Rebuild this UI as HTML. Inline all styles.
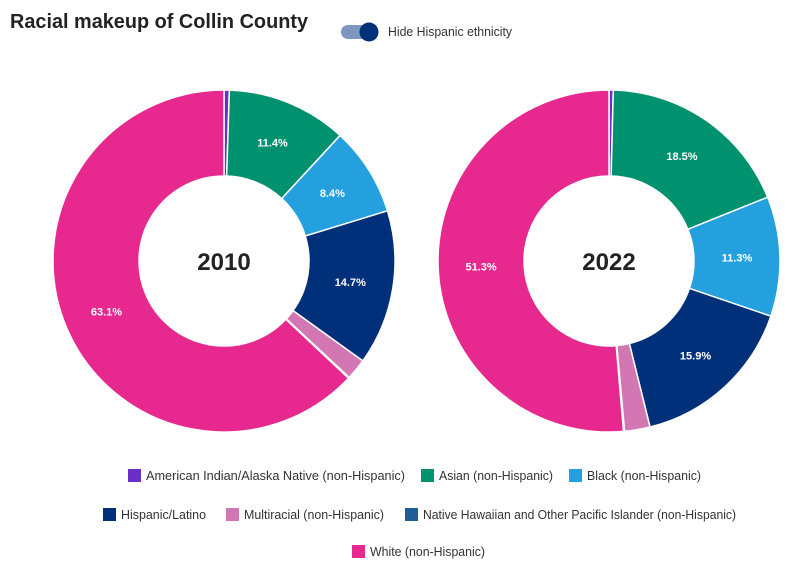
<!DOCTYPE html>
<html><head><meta charset="utf-8"><style>
body{margin:0;background:#fff;}
svg{display:block;font-family:"Liberation Sans",sans-serif;}
</style></head><body>
<svg id="chart" width="802" height="562">
<text x="10" y="28" font-size="20" font-weight="bold" fill="#222" textLength="298" lengthAdjust="spacingAndGlyphs">Racial makeup of Collin County</text>
<g>
<rect x="341" y="25" width="34" height="14" rx="7" fill="#7d96bf"/>
<circle cx="369" cy="32" r="9.5" fill="#00307a"/>
</g>
<text x="388" y="36" font-size="12.5" fill="#333" textLength="124" lengthAdjust="spacingAndGlyphs">Hide Hispanic ethnicity</text>
<g id="pies"></g>
<g id="legend"></g>
</svg>
<script>
const categories=["American Indian/Alaska Native (non-Hispanic)","Asian (non-Hispanic)","Black (non-Hispanic)","Hispanic/Latino","Multiracial (non-Hispanic)","Native Hawaiian and Other Pacific Islander (non-Hispanic)","White (non-Hispanic)"];
const colors=["#6a2fc9","#00916e","#24a0df","#00307a","#d377b4","#1f5f99","#e6288f"];
const years=["2010","2022"];
const values2010=[0.5,11.4,8.4,14.7,2.0,0.1,63.1];
const values2022=[0.4,18.5,11.3,15.9,2.4,0.1,51.3];
const series=[values2010,values2022];
const NS="http://www.w3.org/2000/svg";
function mk(t,a,p){const e=document.createElementNS(NS,t);for(const k in a)e.setAttribute(k,a[k]);p.appendChild(e);return e;}
const pies=document.getElementById('pies');
const centers=[[224,261],[609,261]];const R=171,r=85;
function pt(cx,cy,rad,a){return [cx+rad*Math.sin(a),cy-rad*Math.cos(a)];}
series.forEach((vals,si)=>{
 const [cx,cy]=centers[si];const tot=vals.reduce((a,b)=>a+b,0);let acc=0;
 const g=mk('g',{},pies);
 
 
 vals.forEach((v,i)=>{
  const a0=acc/tot*2*Math.PI;acc+=v;const a1=acc/tot*2*Math.PI;
  const L=(a1-a0)>Math.PI?1:0;
  const p0=pt(cx,cy,R,a0),p1=pt(cx,cy,R,a1),q1=pt(cx,cy,r,a1),q0=pt(cx,cy,r,a0);
  const d=`M${p0}A${R},${R} 0 ${L} 1 ${p1}L${q1}A${r},${r} 0 ${L} 0 ${q0}Z`;
  const s=mk('path',{d:d,fill:colors[i],stroke:'#fff','stroke-width':1.5},g);
  
  
  if(v>=5){const m=pt(cx,cy,(R+r)/2,(a0+a1)/2);
   const t=mk('text',{x:m[0],y:m[1]+4,'text-anchor':'middle','font-size':11,'font-weight':'bold',fill:'#fff'},g);
   t.textContent=v.toFixed(1)+'%';
   
   }
 });
 const yt=mk('text',{x:cx,y:cy+9,'text-anchor':'middle','font-size':24,'font-weight':'bold',fill:'#222'},g);
 yt.textContent=years[si];
 
 
});
const lg=document.getElementById('legend');
const lpos=[[128,469,259],[421,469,114],[569,469,114],[103,508,85],[226,508,140],[405,508,313],[352,545,115]];
categories.forEach((c,i)=>{
 const [x,y,w]=lpos[i];
 const g=mk('g',{},lg);
 
 
 mk('rect',{x:x,y:y,width:13,height:13,fill:colors[i]},g);
 const t=mk('text',{x:x+18,y:y+11,'font-size':12.5,fill:'#333',textLength:w,lengthAdjust:'spacingAndGlyphs'},g);
 t.textContent=c;
});
</script>
</body></html>
